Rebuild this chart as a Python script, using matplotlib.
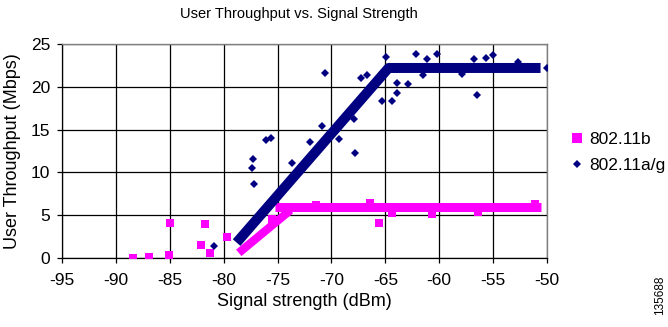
import matplotlib
matplotlib.use('Agg')
import matplotlib.pyplot as plt
from matplotlib.lines import Line2D

plt.rcParams['font.family'] = ['Liberation Sans', 'DejaVu Sans']
plt.rcParams['axes.unicode_minus'] = False

# 802.11b measurements (magenta squares)
b_x = [-88.4, -86.9, -85.1, -85.0, -82.1, -81.7, -81.3, -79.7, -75.5,
       -71.4, -66.4, -65.6, -64.4, -60.7, -56.4, -51.1]
b_y = [0.05, 0.15, 0.4, 4.1, 1.5, 4.0, 0.6, 2.5, 4.6,
       6.2, 6.4, 4.1, 5.3, 5.1, 5.4, 6.3]
# 802.11b fitted trend (dense band): ramp, then plateau
b_ramp_x = [-78.6, -73.8]
b_ramp_y = [0.6, 5.6]
b_flat_x = [-75.2, -50.6]
b_flat_y = [6.0, 6.0]

# 802.11a/g measurements (navy diamonds)
ag_x = [-80.9, -77.4, -77.3, -77.2, -76.1, -75.6, -73.7, -72.0, -70.9, -70.6,
        -69.3, -67.9, -67.8, -67.3, -66.7, -65.3, -64.9, -64.4, -63.9, -63.9,
        -62.9, -62.2, -61.5, -61.1, -60.2, -57.9, -56.8, -56.5, -55.7, -55.0,
        -52.7, -50.0]
ag_y = [1.4, 10.5, 11.6, 8.7, 13.8, 14.0, 11.1, 13.6, 15.4, 21.6,
        13.9, 16.2, 12.3, 21.0, 21.4, 18.3, 23.5, 18.3, 20.4, 19.3,
        20.3, 23.8, 21.4, 23.2, 23.8, 21.5, 23.2, 19.1, 23.4, 23.7,
        22.9, 22.2]
# 802.11a/g fitted trend (dense band)
ag_fit_x = [-78.8, -64.7, -50.6]
ag_fit_y = [1.8, 22.2, 22.2]

x_ticks = [-95, -90, -85, -80, -75, -70, -65, -60, -55, -50]
y_ticks = [0, 5, 10, 15, 20, 25]

pink = '#FF00FF'
navy = '#000080'

fig = plt.figure(figsize=(6.68, 3.27), dpi=100)
ax = fig.add_axes([62 / 668, 1 - 258 / 327, 485 / 668, 214 / 327])

ax.plot(b_ramp_x, b_ramp_y, color=pink, lw=6.0, solid_capstyle='butt', zorder=3)
ax.plot(b_flat_x, b_flat_y, color=pink, lw=6.5, solid_capstyle='butt', zorder=3)
ax.plot(b_x, b_y, 's', color=pink, ms=6.2, mew=0, zorder=3)
ax.plot(ag_fit_x, ag_fit_y, color=navy, lw=7.2, solid_capstyle='butt', zorder=4)
ax.plot(ag_x, ag_y, 'D', color=navy, ms=4.4, mew=0, zorder=4)

ax.set_xlim(-95, -50)
ax.set_ylim(0, 25)
ax.set_xticks(x_ticks)
ax.set_yticks(y_ticks)
ax.grid(True, color='black', lw=0.9, zorder=0)
ax.set_axisbelow(True)
ax.tick_params(axis='both', direction='out', length=3.5, width=0.9,
               labelsize=12.5, color='black')
ax.tick_params(axis='x', pad=7)
ax.tick_params(axis='y', pad=5)
for side in ['top', 'right']:
    ax.spines[side].set_color('#808080')
    ax.spines[side].set_linewidth(1.0)
for side in ['left', 'bottom']:
    ax.spines[side].set_color('black')
    ax.spines[side].set_linewidth(0.9)

ax.set_xlabel('Signal strength (dBm)', fontsize=13, labelpad=4)
ax.set_ylabel('User Throughput (Mbps)', fontsize=13, labelpad=7)
fig.text(0.447, 0.958, 'User Throughput vs. Signal Strength',
         ha='center', va='center', fontsize=10.5)

handles = [Line2D([], [], ls='none', marker='s', color=pink, ms=6.5, mew=0),
           Line2D([], [], ls='none', marker='D', color=navy, ms=4.2, mew=0)]
fig.legend(handles, ['802.11b', '802.11a/g'], loc='center left',
           bbox_to_anchor=(572 / 668, 1 - 152.5 / 327), frameon=False,
           fontsize=12.5, handlelength=0.6, handletextpad=0.4,
           labelspacing=0.6, borderpad=0, borderaxespad=0)

fig.text(660 / 668, 1 - 295 / 327, '135688', rotation=90, ha='center',
         va='center', fontsize=8.5)

fig.savefig('out.png', dpi=100)
